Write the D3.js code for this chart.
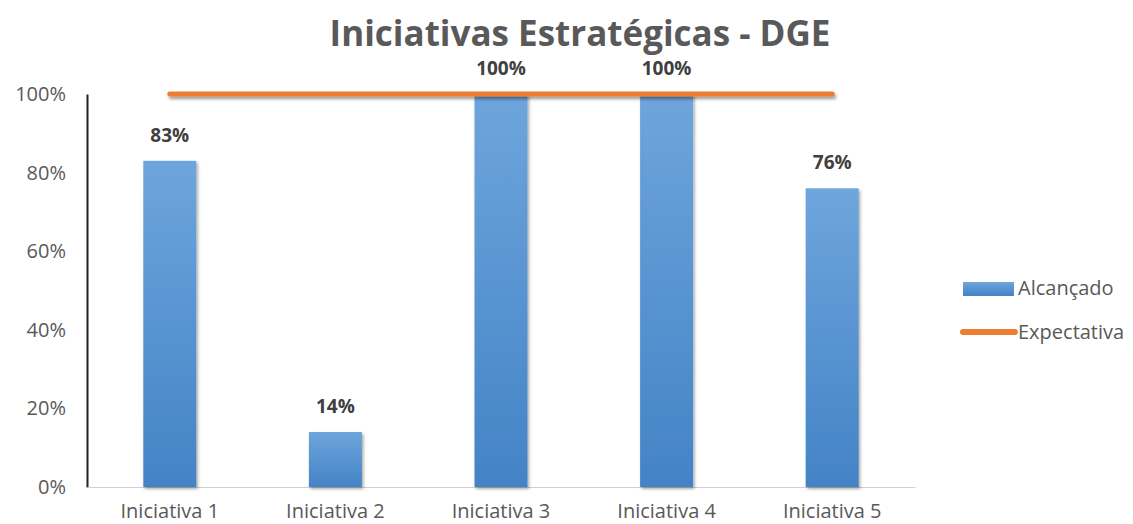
<!DOCTYPE html>
<html>
<head>
<meta charset="utf-8">
<script src="https://cdn.jsdelivr.net/npm/d3@7"></script>
<style>
  body { margin: 0; background: #fff; }
  text { font-family: "Open Sans", "DejaVu Sans", sans-serif; }
</style>
</head>
<body>
<div id="chart"></div>
<script>
// data
var categories = ["Iniciativa 1", "Iniciativa 2", "Iniciativa 3", "Iniciativa 4", "Iniciativa 5"];
var alcancado = [0.83, 0.14, 1.00, 1.00, 0.76];
var expectativa = [1, 1, 1, 1, 1];
var yTicks = [0, 0.2, 0.4, 0.6, 0.8, 1.0];

var W = 1133, H = 524;
var margin = {top: 94, right: 218, bottom: 37, left: 87},
    width = W - margin.left - margin.right,
    height = H - margin.top - margin.bottom;

var svg = d3.select("#chart")
  .append("svg")
    .attr("width", W)
    .attr("height", H);

var defs = svg.append("defs");
var grad = defs.append("linearGradient")
    .attr("id", "bar-grad")
    .attr("x1", 0).attr("y1", 0).attr("x2", 0).attr("y2", 1);
grad.append("stop").attr("offset", "0%").attr("stop-color", "#6ea5dc");
grad.append("stop").attr("offset", "100%").attr("stop-color", "#4383c6");

var shadow = defs.append("filter").attr("id", "shadow")
    .attr("x", "-10%").attr("y", "-10%").attr("width", "130%").attr("height", "150%");
shadow.append("feDropShadow")
    .attr("dx", 1.5).attr("dy", 2).attr("stdDeviation", 1.5)
    .attr("flood-color", "#000").attr("flood-opacity", 0.35);

// the line is flat so its bbox has no height, use user space for the filter region
var lineShadow = defs.append("filter").attr("id", "line-shadow")
    .attr("filterUnits", "userSpaceOnUse")
    .attr("x", 0).attr("y", -50).attr("width", W).attr("height", 100);
lineShadow.append("feDropShadow")
    .attr("dx", 1.5).attr("dy", 2.5).attr("stdDeviation", 1.5)
    .attr("flood-color", "#000").attr("flood-opacity", 0.4);

var g = svg.append("g")
    .attr("transform", "translate(" + margin.left + "," + margin.top + ")");

var x = d3.scaleBand()
    .domain(categories)
    .range([0, width])
    .paddingInner(0.68)
    .paddingOuter(0.34);

var y = d3.scaleLinear()
    .domain([0, 1])
    .range([height, 0]);

// title
svg.append("text")
    .attr("x", 580)
    .attr("y", 46)
    .attr("text-anchor", "middle")
    .style("font-size", "35px")
    .style("font-weight", "bold")
    .style("fill", "#595959")
    .text("Iniciativas Estratégicas - DGE");

// y axis
var yAxis = g.append("g")
    .call(d3.axisLeft(y).tickValues(yTicks).tickFormat(d3.format(".0%")).tickSize(0).tickPadding(21));
yAxis.select(".domain").attr("stroke", "#222").attr("stroke-width", 2);
yAxis.selectAll("text")
    .style("font-size", "20px")
    .style("fill", "#595959");

// x axis
var xAxis = g.append("g")
    .attr("transform", "translate(0," + height + ")")
    .call(d3.axisBottom(x).tickSize(0).tickPadding(17));
xAxis.select(".domain").attr("stroke", "#d0d0d0").attr("stroke-width", 1);
xAxis.selectAll("text")
    .style("font-size", "20px")
    .style("fill", "#595959");

// bars
g.selectAll(".bar")
  .data(alcancado)
  .enter().append("rect")
    .attr("class", "bar")
    .attr("x", function(d, i) { return x(categories[i]); })
    .attr("y", function(d) { return y(d); })
    .attr("width", x.bandwidth())
    .attr("height", function(d) { return height - y(d); })
    .attr("fill", "url(#bar-grad)")
    .attr("filter", "url(#shadow)");

// expectativa line
var line = d3.line()
    .x(function(d, i) { return x(categories[i]) + x.bandwidth() / 2; })
    .y(function(d) { return y(d); });

g.append("path")
    .datum(expectativa)
    .attr("fill", "none")
    .attr("stroke", "#ed7d31")
    .attr("stroke-width", 5)
    .attr("stroke-linecap", "round")
    .attr("filter", "url(#line-shadow)")
    .attr("d", line);

// value labels
g.selectAll(".lbl")
  .data(alcancado)
  .enter().append("text")
    .attr("class", "lbl")
    .attr("x", function(d, i) { return x(categories[i]) + x.bandwidth() / 2; })
    .attr("y", function(d) { return y(d) - 19; })
    .attr("text-anchor", "middle")
    .style("font-size", "19px")
    .style("font-weight", "bold")
    .style("fill", "#404040")
    .text(function(d) { return d3.format(".0%")(d); });

// legend
var leg = svg.append("g").attr("transform", "translate(963,0)");
leg.append("rect")
    .attr("x", 0).attr("y", 282)
    .attr("width", 51).attr("height", 14)
    .attr("fill", "url(#bar-grad)");
leg.append("text")
    .attr("x", 55).attr("y", 295)
    .style("font-size", "20px")
    .style("fill", "#595959")
    .text("Alcançado");
leg.append("line")
    .attr("x1", 0).attr("x2", 52)
    .attr("y1", 332).attr("y2", 332)
    .attr("stroke", "#ed7d31")
    .attr("stroke-width", 6)
    .attr("stroke-linecap", "round");
leg.append("text")
    .attr("x", 55).attr("y", 339)
    .style("font-size", "20px")
    .style("fill", "#595959")
    .text("Expectativa");
</script>
</body>
</html>
